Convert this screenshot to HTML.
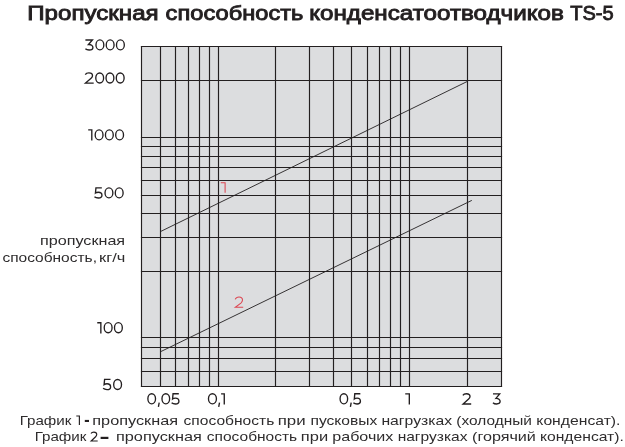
<!DOCTYPE html>
<html><head><meta charset="utf-8">
<style>
html,body{margin:0;padding:0;background:#fff;width:625px;height:447px;overflow:hidden}
svg{display:block;will-change:transform}
text{font-family:"Liberation Sans",sans-serif;white-space:pre}
</style></head><body>
<svg width="625" height="447" viewBox="0 0 625 447">
<rect x="141.5" y="46.5" width="360.0" height="340.0" fill="#dcdddf"/>
<g stroke="#231f20" stroke-width="1.15" fill="none" stroke-linecap="square">
<line x1="141.5" y1="46.5" x2="141.5" y2="386.5"/>
<line x1="160.5" y1="46.5" x2="160.5" y2="386.5"/>
<line x1="175.5" y1="46.5" x2="175.5" y2="386.5"/>
<line x1="188.5" y1="46.5" x2="188.5" y2="386.5"/>
<line x1="199.5" y1="46.5" x2="199.5" y2="386.5"/>
<line x1="209.5" y1="46.5" x2="209.5" y2="386.5"/>
<line x1="218.5" y1="46.5" x2="218.5" y2="386.5"/>
<line x1="275.5" y1="46.5" x2="275.5" y2="386.5"/>
<line x1="309.5" y1="46.5" x2="309.5" y2="386.5"/>
<line x1="333.5" y1="46.5" x2="333.5" y2="386.5"/>
<line x1="351.5" y1="46.5" x2="351.5" y2="386.5"/>
<line x1="367.5" y1="46.5" x2="367.5" y2="386.5"/>
<line x1="379.5" y1="46.5" x2="379.5" y2="386.5"/>
<line x1="390.5" y1="46.5" x2="390.5" y2="386.5"/>
<line x1="400.5" y1="46.5" x2="400.5" y2="386.5"/>
<line x1="409.5" y1="46.5" x2="409.5" y2="386.5"/>
<line x1="467.5" y1="46.5" x2="467.5" y2="386.5"/>
<line x1="501.5" y1="46.5" x2="501.5" y2="386.5"/>
<line x1="141.5" y1="46.5" x2="501.5" y2="46.5"/>
<line x1="141.5" y1="80.5" x2="501.5" y2="80.5"/>
<line x1="141.5" y1="137.5" x2="501.5" y2="137.5"/>
<line x1="141.5" y1="146.5" x2="501.5" y2="146.5"/>
<line x1="141.5" y1="156.5" x2="501.5" y2="156.5"/>
<line x1="141.5" y1="167.5" x2="501.5" y2="167.5"/>
<line x1="141.5" y1="180.5" x2="501.5" y2="180.5"/>
<line x1="141.5" y1="195.5" x2="501.5" y2="195.5"/>
<line x1="141.5" y1="213.5" x2="501.5" y2="213.5"/>
<line x1="141.5" y1="237.5" x2="501.5" y2="237.5"/>
<line x1="141.5" y1="271.5" x2="501.5" y2="271.5"/>
<line x1="141.5" y1="337.5" x2="501.5" y2="337.5"/>
<line x1="141.5" y1="347.5" x2="501.5" y2="347.5"/>
<line x1="141.5" y1="358.5" x2="501.5" y2="358.5"/>
<line x1="141.5" y1="371.5" x2="501.5" y2="371.5"/>
<line x1="141.5" y1="386.5" x2="501.5" y2="386.5"/>
</g>
<g stroke="#231f20" stroke-width="0.9" fill="none">
<line x1="160.8" y1="231.4" x2="468" y2="81.1"/>
<line x1="160.8" y1="351.6" x2="471.8" y2="200.4"/>
</g>
<text x="27.25" y="19.6" textLength="131.38" lengthAdjust="spacingAndGlyphs" font-size="19.3" fill="#231f20" stroke="#231f20" stroke-width="0.85">Пропускная</text>
<text x="165.6" y="19.6" textLength="137.8" lengthAdjust="spacingAndGlyphs" font-size="19.3" fill="#231f20" stroke="#231f20" stroke-width="0.85">способность</text>
<text x="309.15" y="19.6" textLength="254.75" lengthAdjust="spacingAndGlyphs" font-size="19.3" fill="#231f20" stroke="#231f20" stroke-width="0.85">конденсатоотводчиков</text>
<text x="570.2" y="19.6" textLength="43.49" lengthAdjust="spacingAndGlyphs" font-size="19.3" fill="#231f20" stroke="#231f20" stroke-width="0.85">TS-5</text>
<text x="39.99" y="244.9" textLength="85.15" lengthAdjust="spacingAndGlyphs" font-size="13.3" fill="#2e2c2d">пропускная</text>
<text x="2.4" y="261.5" textLength="94.55" lengthAdjust="spacingAndGlyphs" font-size="13.3" fill="#2e2c2d">способность,</text>
<text x="99.06" y="261.5" textLength="26.3" lengthAdjust="spacingAndGlyphs" font-size="13.3" fill="#2e2c2d">кг/ч</text>
<text x="19.68" y="424.9" textLength="51.76" lengthAdjust="spacingAndGlyphs" font-size="13.5" fill="#2e2c2d">График</text>
<text x="92.3" y="424.9" textLength="85.71" lengthAdjust="spacingAndGlyphs" font-size="13.5" fill="#2e2c2d">пропускная</text>
<text x="183.6" y="424.9" textLength="90.64" lengthAdjust="spacingAndGlyphs" font-size="13.5" fill="#2e2c2d">способность</text>
<text x="277.75" y="424.9" textLength="27.9" lengthAdjust="spacingAndGlyphs" font-size="13.5" fill="#2e2c2d">при</text>
<text x="310.44" y="424.9" textLength="66.89" lengthAdjust="spacingAndGlyphs" font-size="13.5" fill="#2e2c2d">пусковых</text>
<text x="381.44" y="424.9" textLength="70.56" lengthAdjust="spacingAndGlyphs" font-size="13.5" fill="#2e2c2d">нагрузках</text>
<text x="456.36" y="424.9" textLength="75.48" lengthAdjust="spacingAndGlyphs" font-size="13.5" fill="#2e2c2d">(холодный</text>
<text x="536.34" y="424.9" textLength="84.14" lengthAdjust="spacingAndGlyphs" font-size="13.5" fill="#2e2c2d">конденсат).</text>
<text x="34.68" y="441.2" textLength="51.76" lengthAdjust="spacingAndGlyphs" font-size="13.5" fill="#2e2c2d">График</text>
<text x="115.99" y="441.2" textLength="85.81" lengthAdjust="spacingAndGlyphs" font-size="13.5" fill="#2e2c2d">пропускная</text>
<text x="206.8" y="441.2" textLength="90.34" lengthAdjust="spacingAndGlyphs" font-size="13.5" fill="#2e2c2d">способность</text>
<text x="300.88" y="441.2" textLength="27.26" lengthAdjust="spacingAndGlyphs" font-size="13.5" fill="#2e2c2d">при</text>
<text x="332.31" y="441.2" textLength="61.04" lengthAdjust="spacingAndGlyphs" font-size="13.5" fill="#2e2c2d">рабочих</text>
<text x="397.65" y="441.2" textLength="69.86" lengthAdjust="spacingAndGlyphs" font-size="13.5" fill="#2e2c2d">нагрузках</text>
<text x="472.0" y="441.2" textLength="63.9" lengthAdjust="spacingAndGlyphs" font-size="13.5" fill="#2e2c2d">(горячий</text>
<text x="539.94" y="441.2" textLength="83.93" lengthAdjust="spacingAndGlyphs" font-size="13.5" fill="#2e2c2d">конденсат).</text>
<g stroke="#231f20" stroke-width="1.35" fill="none" stroke-linejoin="miter">
<ellipse cx="99.90" cy="44.90" rx="3.92" ry="5.03"/>
<ellipse cx="110.15" cy="44.90" rx="3.92" ry="5.03"/>
<ellipse cx="120.40" cy="44.90" rx="3.92" ry="5.03"/>
<path transform="translate(85.0,39.2) scale(1.0000,1.0000)" vector-effect="non-scaling-stroke" d="M0.4,0.8 H7.4 L3.5,5.3 C6.1,5.1 7.9,6.5 7.9,8.2 C7.9,10 6.3,10.8 4.1,10.8 C2.5,10.8 1.2,10.3 0.4,9.5"/>
<ellipse cx="99.70" cy="78.00" rx="3.92" ry="5.03"/>
<ellipse cx="109.95" cy="78.00" rx="3.92" ry="5.03"/>
<ellipse cx="120.20" cy="78.00" rx="3.92" ry="5.03"/>
<path transform="translate(84.8,72.3) scale(1.0000,1.0000)" vector-effect="non-scaling-stroke" d="M0.5,2.3 C1.1,1.2 2.4,0.6 4.1,0.6 C6.3,0.6 7.7,1.8 7.7,3.4 C7.7,4.3 7.2,5.1 6.3,5.9 L0.7,10.8 H8.9"/>
<ellipse cx="99.10" cy="134.90" rx="3.92" ry="5.03"/>
<ellipse cx="109.35" cy="134.90" rx="3.92" ry="5.03"/>
<ellipse cx="119.60" cy="134.90" rx="3.92" ry="5.03"/>
<path transform="translate(88.0,129.2) scale(1.0000,1.0000)" vector-effect="non-scaling-stroke" d="M0.2,0.7 H3.8 V11.4"/>
<ellipse cx="108.95" cy="192.90" rx="3.92" ry="5.03"/>
<ellipse cx="119.20" cy="192.90" rx="3.92" ry="5.03"/>
<path transform="translate(94.05,187.2) scale(1.0000,1.0000)" vector-effect="non-scaling-stroke" d="M7.8,0.6 H1.9 L1.4,5.8 C2.2,5.2 3.3,5.0 4.3,5.0 C6.5,5.0 7.9,6.3 7.9,8.1 C7.9,9.8 6.4,10.8 4.3,10.8 C2.8,10.8 1.3,10.3 0.4,9.5"/>
<ellipse cx="108.15" cy="327.70" rx="3.92" ry="5.03"/>
<ellipse cx="118.40" cy="327.70" rx="3.92" ry="5.03"/>
<path transform="translate(97.05,322.0) scale(1.0000,1.0000)" vector-effect="non-scaling-stroke" d="M0.2,0.7 H3.8 V11.4"/>
<ellipse cx="117.60" cy="384.50" rx="3.92" ry="5.03"/>
<path transform="translate(102.7,378.8) scale(1.0000,1.0000)" vector-effect="non-scaling-stroke" d="M7.8,0.6 H1.9 L1.4,5.8 C2.2,5.2 3.3,5.0 4.3,5.0 C6.5,5.0 7.9,6.3 7.9,8.1 C7.9,9.8 6.4,10.8 4.3,10.8 C2.8,10.8 1.3,10.3 0.4,9.5"/>
<ellipse cx="151.70" cy="398.85" rx="3.83" ry="5.08"/>
<path transform="translate(157.9,402.6) scale(1.0000,1.0000)" vector-effect="non-scaling-stroke" d="M1.3,0 L0.5,4.3"/>
<ellipse cx="165.80" cy="398.85" rx="3.83" ry="5.08"/>
<path transform="translate(171.2,393.1) scale(0.9765,1.0088)" vector-effect="non-scaling-stroke" d="M7.8,0.6 H1.9 L1.4,5.8 C2.2,5.2 3.3,5.0 4.3,5.0 C6.5,5.0 7.9,6.3 7.9,8.1 C7.9,9.8 6.4,10.8 4.3,10.8 C2.8,10.8 1.3,10.3 0.4,9.5"/>
<ellipse cx="212.45" cy="398.85" rx="3.98" ry="5.08"/>
<path transform="translate(218.2,402.6) scale(1.0000,1.0000)" vector-effect="non-scaling-stroke" d="M1.3,0 L0.5,4.3"/>
<path transform="translate(220.9,393.1) scale(0.8864,1.0088)" vector-effect="non-scaling-stroke" d="M0.2,0.7 H3.8 V11.4"/>
<ellipse cx="343.85" cy="398.85" rx="3.78" ry="5.08"/>
<path transform="translate(349.9,402.6) scale(1.0000,1.0000)" vector-effect="non-scaling-stroke" d="M1.3,0 L0.5,4.3"/>
<path transform="translate(353.0,393.1) scale(0.9412,1.0088)" vector-effect="non-scaling-stroke" d="M7.8,0.6 H1.9 L1.4,5.8 C2.2,5.2 3.3,5.0 4.3,5.0 C6.5,5.0 7.9,6.3 7.9,8.1 C7.9,9.8 6.4,10.8 4.3,10.8 C2.8,10.8 1.3,10.3 0.4,9.5"/>
<path transform="translate(405.0,393.1) scale(1.1364,1.0088)" vector-effect="non-scaling-stroke" d="M0.2,0.7 H3.8 V11.4"/>
<path transform="translate(462.4,393.1) scale(0.9888,1.0088)" vector-effect="non-scaling-stroke" d="M0.5,2.3 C1.1,1.2 2.4,0.6 4.1,0.6 C6.3,0.6 7.7,1.8 7.7,3.4 C7.7,4.3 7.2,5.1 6.3,5.9 L0.7,10.8 H8.9"/>
<path transform="translate(492.6,393.1) scale(0.9529,1.0088)" vector-effect="non-scaling-stroke" d="M0.4,0.8 H7.4 L3.5,5.3 C6.1,5.1 7.9,6.5 7.9,8.2 C7.9,10 6.3,10.8 4.1,10.8 C2.5,10.8 1.2,10.3 0.4,9.5"/>
</g>
<g stroke="#231f20" stroke-width="1.15" fill="none">
<path transform="translate(76.1,415.4) scale(0.8636,0.8333)" vector-effect="non-scaling-stroke" d="M0.2,0.7 H3.8 V11.4"/>
<path transform="translate(90.6,431.6) scale(0.7978,0.8684)" vector-effect="non-scaling-stroke" d="M0.5,2.3 C1.1,1.2 2.4,0.6 4.1,0.6 C6.3,0.6 7.7,1.8 7.7,3.4 C7.7,4.3 7.2,5.1 6.3,5.9 L0.7,10.8 H8.9"/>
</g>
<rect x="84.8" y="419.9" width="4.2" height="2.1" fill="#231f20"/>
<rect x="100.6" y="436.8" width="7.8" height="2.2" fill="#231f20"/>
<g stroke="#dc4652" stroke-width="1.05" fill="none" stroke-linejoin="miter">
<path d="M220.8,182.8 H225.1 V192.7"/>
<path d="M235.2,299.4 C235.9,297.7 237.4,296.9 239,296.9 C241.2,296.9 242.5,298.3 242.5,300.1 C242.5,301.2 242,302.1 240.9,303.1 L235.3,307.3 H243.2"/>
</g>
</svg>
</body></html>
